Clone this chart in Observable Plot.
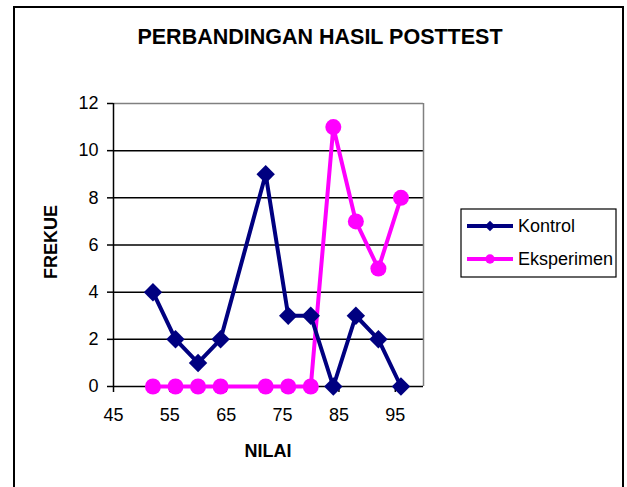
<!DOCTYPE html>
<html><head><meta charset="utf-8">
<script src="https://cdn.jsdelivr.net/npm/d3@7"></script>
<script src="https://cdn.jsdelivr.net/npm/@observablehq/plot@0.6"></script>
<style>html,body{margin:0;padding:0;background:#fff} svg{display:block}</style>
</head><body><div id="chart"></div>
<script>
const nilai = [52, 56, 60, 64, 72, 76, 80, 84, 88, 92, 96];
const kontrol = [4, 2, 1, 2, 9, 3, 3, 0, 3, 2, 0];
const eksperimen = [0, 0, 0, 0, 0, 0, 0, 11, 7, 5, 8];
const xTicks = [45, 55, 65, 75, 85, 95];
const yTicks = [0, 2, 4, 6, 8, 10, 12];
const seriesNames = ["Kontrol", "Eksperimen"];
const seriesColors = ["#000080", "#FF00FF"];
const titleText = "PERBANDINGAN HASIL POSTTEST";
const xLabel = "NILAI";
const yLabel = "FREKUE";

const rowsK = nilai.map((x, i) => ({x, y: kontrol[i]}));
const rowsE = nilai.map((x, i) => ({x, y: eksperimen[i]}));
const FONT = 'Arial, "Liberation Sans", sans-serif';

const svgEl = Plot.plot({
  width: 627, height: 487,
  marginLeft: 113, marginRight: 204, marginTop: 103, marginBottom: 101,
  style: {fontFamily: FONT, fontSize: "18px", color: "#000", background: "#fff", overflow: "visible"},
  x: {domain: [45, 100]},
  y: {domain: [0, 12]},
  marks: [
    Plot.gridY(yTicks.filter(d => d > 0 && d < 12), {stroke: "#000", strokeOpacity: 1, strokeWidth: 1.5}),
    Plot.ruleY([12], {stroke: "#808080", strokeWidth: 1.5}),
    Plot.ruleX([100], {stroke: "#808080", strokeWidth: 1.5}),
    Plot.ruleY([0], {stroke: "#000", strokeWidth: 1.5}),
    Plot.ruleX([45], {stroke: "#000", strokeWidth: 1.5}),
    Plot.axisX({ticks: xTicks, tickSize: 6, tickPadding: 16, label: null, tickFormat: d => String(d), stroke: "#000", strokeWidth: 1.5}),
    Plot.axisY({ticks: yTicks, tickSize: 6, tickPadding: 9, label: null, tickFormat: d => String(d), stroke: "#000", strokeWidth: 1.5}),
    Plot.line(rowsE, {x: "x", y: "y", stroke: seriesColors[1], strokeWidth: 4}),
    Plot.dot(rowsE, {x: "x", y: "y", r: 8, fill: seriesColors[1], stroke: "none"}),
    Plot.line(rowsK, {x: "x", y: "y", stroke: seriesColors[0], strokeWidth: 4}),
    Plot.dot(rowsK, {x: "x", y: "y", r: 8.3, symbol: "diamond2", fill: seriesColors[0], stroke: "none"})
  ]
});

const svg = d3.select(svgEl);
svg.append("rect").attr("x", 14).attr("y", 7).attr("width", 609).attr("height", 520)
  .attr("fill", "none").attr("stroke", "#000").attr("stroke-width", 2);
svg.append("text").attr("x", 320).attr("y", 36.5).attr("text-anchor", "middle")
  .attr("dominant-baseline", "central").attr("font-family", FONT).attr("font-weight", "bold")
  .attr("font-size", 21.5).text(titleText);
svg.append("text").attr("x", 268).attr("y", 451).attr("text-anchor", "middle")
  .attr("dominant-baseline", "central").attr("font-family", FONT).attr("font-weight", "bold")
  .attr("font-size", 18).text(xLabel);
svg.append("text").attr("transform", "translate(51,242) rotate(-90)").attr("text-anchor", "middle")
  .attr("dominant-baseline", "central").attr("font-family", FONT).attr("font-weight", "bold")
  .attr("font-size", 18).text(yLabel);

const lg = svg.append("g");
lg.append("rect").attr("x", 461).attr("y", 209).attr("width", 155).attr("height", 68)
  .attr("fill", "#fff").attr("stroke", "#000").attr("stroke-width", 1.2);
const symbols = [d3.symbol(d3.symbolDiamond2, 70), d3.symbol(d3.symbolCircle, 70)];
seriesNames.forEach((name, i) => {
  const cy = 226 + i * 33;
  lg.append("line").attr("x1", 467).attr("x2", 513).attr("y1", cy).attr("y2", cy)
    .attr("stroke", seriesColors[i]).attr("stroke-width", 4);
  lg.append("path").attr("d", symbols[i]()).attr("transform", `translate(490,${cy})`).attr("fill", seriesColors[i]);
  lg.append("text").attr("x", 518).attr("y", cy).attr("text-anchor", "start").attr("dominant-baseline", "central")
    .attr("font-family", FONT).attr("font-size", 18).text(name);
});

document.getElementById("chart").appendChild(svgEl);
</script>
</body></html>
